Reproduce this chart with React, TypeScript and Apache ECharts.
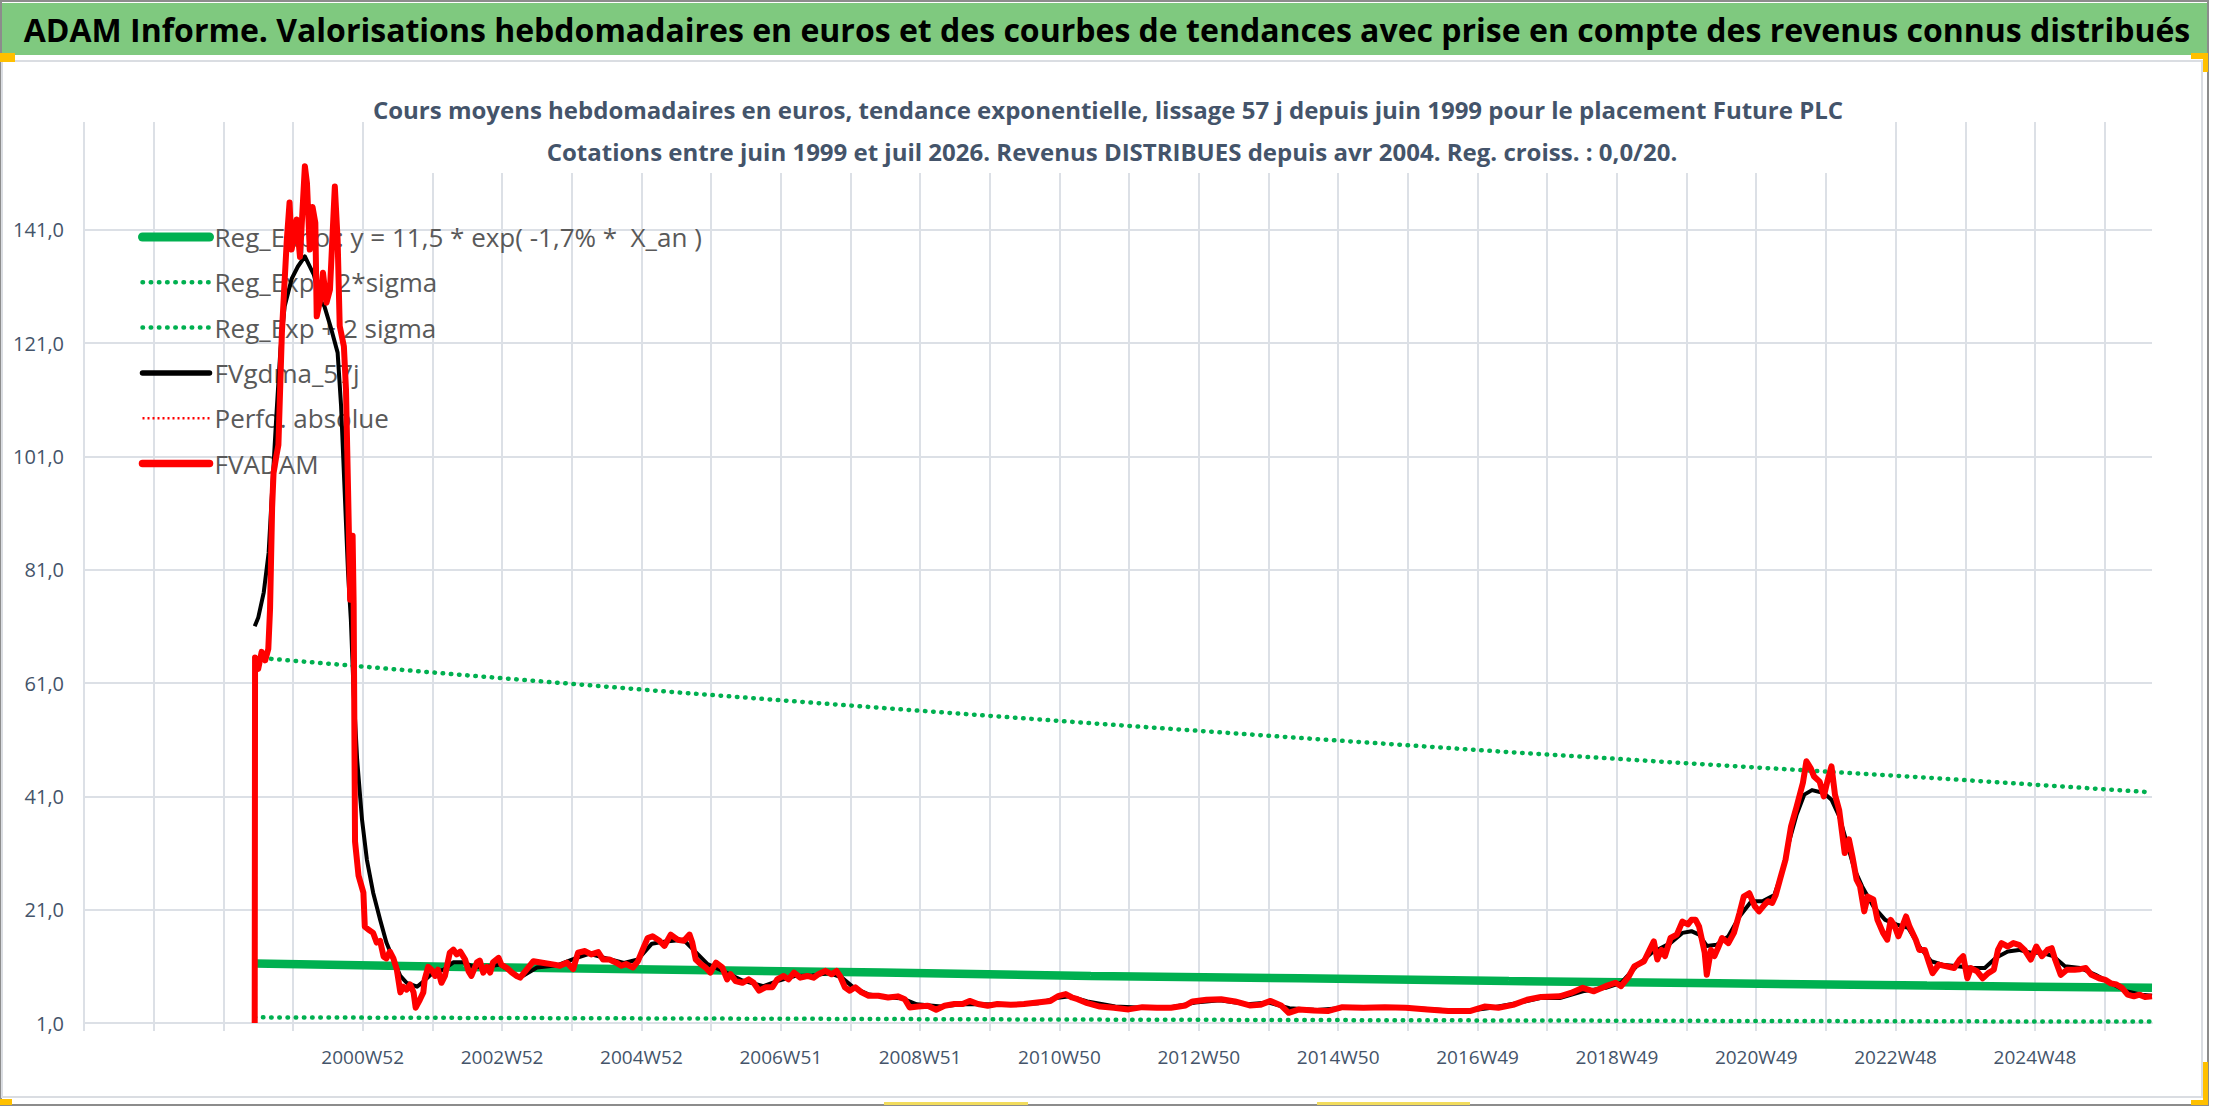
import React, { useEffect, useRef } from "react";
import * as echarts from "echarts";

const HEADER =
  "ADAM Informe. Valorisations hebdomadaires en euros et des courbes de tendances avec prise en compte des revenus connus distribués";
const SUBTITLE_1 =
  "Cours moyens hebdomadaires en euros, tendance exponentielle, lissage 57 j depuis juin 1999 pour le placement Future PLC";
const SUBTITLE_2 =
  "Cotations entre juin 1999 et juil 2026. Revenus DISTRIBUES depuis avr 2004. Reg. croiss. : 0,0/20.";

const SERIES_NAMES = [
  "Reg_Expo : y = 11,5 * exp( -1,7% *  X_an )",
  "Reg_Exp - 2*sigma",
  "Reg_Exp + 2 sigma",
  "FVgdma_57j",
  "Perfo. absolue",
  "FVADAM",
];

// x axis: decimal years; ticks every year, labels every second year
const X_MIN = 1997;
const X_MAX = 2026.68;
const X_TICK_YEARS = [2001, 2003, 2005, 2007, 2009, 2011, 2013, 2015, 2017, 2019, 2021, 2023, 2025];
const X_TICK_LABELS = [
  "2000W52", "2002W52", "2004W52", "2006W51", "2008W51", "2010W50", "2012W50",
  "2014W50", "2016W49", "2018W49", "2020W49", "2022W48", "2024W48",
];
const Y_MIN = 1;
const Y_MAX = 160;
const Y_STEP = 20;

const REG_EXPO: [number, number][] = [
  [1999.45, 11.5], [2002.45, 10.9], [2005.45, 10.4], [2008.45, 9.9], [2011.45, 9.3],
  [2014.45, 8.9], [2017.45, 8.4], [2020.45, 8.0], [2023.45, 7.6], [2026.68, 7.2],
];
const REG_MINUS: [number, number][] = [
  [1999.45, 2.0], [2005.45, 1.8], [2011.45, 1.6], [2017.45, 1.45], [2023.45, 1.3], [2026.68, 1.25],
];
const REG_PLUS: [number, number][] = [
  [1999.45, 65.5], [2002.45, 62.4], [2005.45, 59.4], [2008.45, 56.6], [2011.45, 53.9],
  [2014.45, 51.3], [2017.45, 48.8], [2020.45, 46.5], [2023.45, 44.3], [2026.68, 41.7],
];
const PERFO_ABSOLUE: [number, number][] = [];

const FVGDMA: [number, number][] = [
  [1999.45, 71.0], [1999.5, 72.5], [1999.58, 77.0], [1999.65, 84.0], [1999.7, 95.0], [1999.76, 108.0],
  [1999.82, 120.0], [1999.88, 127.5], [1999.98, 132.3], [2000.07, 134.5], [2000.17, 136.3], [2000.3, 133.0],
  [2000.39, 128.5], [2000.45, 127.5], [2000.55, 123.4], [2000.64, 119.3], [2000.69, 109.8], [2000.74, 95.1],
  [2000.79, 80.4], [2000.83, 72.2], [2000.87, 59.3], [2000.92, 47.5], [2000.99, 36.9], [2001.06, 29.8],
  [2001.15, 24.0], [2001.25, 19.2], [2001.34, 15.2], [2001.44, 12.2], [2001.54, 9.3], [2001.63, 8.1],
  [2001.78, 7.4], [2001.87, 8.3], [2002.01, 9.9], [2002.16, 10.4], [2002.3, 11.7], [2002.45, 11.7],
  [2002.59, 10.9], [2002.78, 10.9], [2002.97, 11.3], [2003.12, 10.1], [2003.26, 9.0],
  [2003.5, 10.8], [2003.8, 11.2], [2004.05, 12.4], [2004.25, 13.2], [2004.5, 12.4], [2004.75, 11.6],
  [2004.95, 12.2], [2005.15, 15.0], [2005.35, 15.4], [2005.6, 15.7], [2005.78, 13.5], [2005.95, 11.4],
  [2006.2, 10.0], [2006.45, 8.5], [2006.75, 7.5], [2006.95, 8.4], [2007.2, 9.3], [2007.45, 9.4],
  [2007.7, 9.8], [2007.88, 9.0], [2008.05, 7.2], [2008.25, 6.1], [2008.5, 5.6], [2008.75, 5.3],
  [2008.95, 4.3], [2009.3, 3.9], [2009.6, 4.3], [2009.9, 4.3], [2010.3, 4.2], [2010.7, 4.5],
  [2010.95, 5.4], [2011.15, 5.7], [2011.4, 4.8], [2011.8, 3.9],
  [2012.2, 3.7], [2012.6, 3.8], [2012.95, 4.6], [2013.3, 5.0], [2013.7, 4.3], [2014.0, 4.6],
  [2014.3, 3.6], [2014.7, 3.3], [2015.1, 3.7], [2015.6, 3.8], [2016.0, 3.7], [2016.5, 3.3],
  [2016.9, 3.2], [2017.2, 3.7], [2017.6, 4.6], [2017.9, 5.4],
  [2018.18, 5.4], [2018.51, 6.6], [2018.84, 7.2], [2019.06, 8.1], [2019.28, 11.0], [2019.5, 13.4],
  [2019.77, 15.1], [2019.94, 16.9], [2020.07, 17.2], [2020.18, 16.6], [2020.29, 14.6], [2020.43, 14.8],
  [2020.6, 16.3], [2020.76, 19.8], [2020.93, 22.5], [2021.09, 22.5], [2021.26, 23.6], [2021.37, 27.5],
  [2021.48, 33.4], [2021.58, 37.8], [2021.69, 41.3], [2021.8, 42.1], [2021.97, 41.6], [2022.08, 40.4],
  [2022.19, 37.5], [2022.3, 32.8], [2022.41, 28.1], [2022.52, 25.1], [2022.68, 21.6], [2022.85, 19.2],
  [2023.01, 18.4], [2023.18, 17.8], [2023.34, 14.5], [2023.51, 11.9], [2023.67, 11.3], [2023.89, 11.0],
  [2024.11, 10.7], [2024.28, 10.7], [2024.44, 12.5], [2024.61, 13.6], [2024.77, 13.9], [2024.94, 13.4],
  [2025.1, 13.4], [2025.26, 12.8], [2025.43, 11.0], [2025.65, 10.7], [2025.87, 9.5], [2026.09, 8.0],
  [2026.31, 6.6], [2026.53, 6.0], [2026.68, 5.8],
];

const FVADAM: [number, number][] = [
  [1999.45, 1.0], [1999.455, 65.5], [1999.5, 63.5], [1999.55, 66.5], [1999.6, 65.0], [1999.645, 67.0],
  [1999.67, 74.0], [1999.7, 92.0], [1999.72, 98.0], [1999.76, 101.0], [1999.79, 103.0], [1999.84, 122.8],
  [1999.91, 139.0], [1999.95, 145.8], [1999.98, 137.5], [2000.05, 142.8], [2000.1, 136.2], [2000.17, 152.2],
  [2000.2, 149.2], [2000.24, 137.5], [2000.28, 145.0], [2000.32, 142.2], [2000.34, 125.7], [2000.39, 128.6],
  [2000.43, 133.4], [2000.48, 128.1], [2000.53, 130.4], [2000.6, 148.6], [2000.64, 139.2], [2000.67, 124.0],
  [2000.73, 120.4], [2000.76, 112.8], [2000.79, 95.0], [2000.82, 75.7], [2000.855, 87.0], [2000.87, 75.0],
  [2000.89, 33.0], [2000.94, 27.0], [2001.01, 24.0], [2001.03, 18.0], [2001.08, 17.5], [2001.15, 16.9],
  [2001.2, 15.2], [2001.25, 15.5], [2001.3, 12.7], [2001.34, 12.4], [2001.39, 13.6], [2001.44, 12.4],
  [2001.49, 10.4], [2001.54, 6.4], [2001.58, 7.4], [2001.63, 6.9], [2001.68, 7.8], [2001.73, 6.4],
  [2001.76, 3.7], [2001.82, 5.1], [2001.87, 6.4], [2001.89, 8.7], [2001.94, 10.9], [2001.99, 10.4],
  [2002.04, 9.3], [2002.08, 10.4], [2002.13, 8.1], [2002.18, 9.3], [2002.25, 13.4], [2002.3, 13.95],
  [2002.35, 13.1], [2002.4, 13.6], [2002.47, 12.2], [2002.52, 10.1], [2002.56, 9.3], [2002.64, 11.7],
  [2002.68, 12.0], [2002.73, 9.9], [2002.78, 10.9], [2002.83, 9.9], [2002.87, 11.7], [2002.95, 12.5],
  [2002.99, 11.3], [2003.07, 10.7], [2003.14, 9.9], [2003.21, 9.3], [2003.26, 9.0],
  [2003.45, 11.9], [2003.6, 11.6], [2003.75, 11.3], [2003.83, 11.1], [2003.93, 11.65], [2004.02, 10.5],
  [2004.09, 13.4], [2004.19, 13.7], [2004.28, 13.1], [2004.38, 13.5], [2004.45, 12.2], [2004.54, 12.2],
  [2004.64, 11.65], [2004.71, 11.1], [2004.78, 11.4], [2004.88, 10.8], [2004.95, 11.9], [2005.02, 14.0],
  [2005.09, 16.0], [2005.16, 16.3], [2005.26, 15.5], [2005.33, 14.6], [2005.42, 16.6], [2005.52, 15.7],
  [2005.61, 15.5], [2005.69, 16.6], [2005.73, 15.2], [2005.78, 12.2], [2005.85, 11.4], [2005.92, 10.8],
  [2005.99, 9.9], [2006.07, 11.65], [2006.16, 10.8], [2006.23, 8.7], [2006.28, 9.6], [2006.35, 8.4],
  [2006.45, 8.1], [2006.54, 8.7], [2006.61, 8.1], [2006.69, 6.7], [2006.78, 7.3], [2006.88, 7.3],
  [2006.95, 8.7], [2007.04, 9.3], [2007.11, 8.7], [2007.19, 9.9], [2007.28, 9.0], [2007.38, 9.3],
  [2007.47, 9.0], [2007.54, 9.6], [2007.64, 10.2], [2007.73, 9.6], [2007.8, 10.2], [2007.85, 9.3],
  [2007.92, 7.3], [2007.99, 6.7], [2008.07, 7.3], [2008.16, 6.4], [2008.26, 5.8], [2008.4, 5.8],
  [2008.54, 5.5], [2008.68, 5.7], [2008.78, 5.2], [2008.85, 3.75], [2008.97, 3.9], [2009.11, 4.05],
  [2009.23, 3.35], [2009.35, 4.05], [2009.49, 4.35], [2009.61, 4.35], [2009.71, 4.9], [2009.83, 4.35],
  [2009.97, 4.05], [2010.11, 4.35], [2010.3, 4.2], [2010.49, 4.35], [2010.68, 4.6], [2010.87, 4.9],
  [2010.99, 5.8], [2011.09, 6.1], [2011.18, 5.5], [2011.26, 5.2], [2011.4, 4.5], [2011.58, 3.9],
  [2011.78, 3.7], [2011.99, 3.4], [2012.19, 3.8], [2012.4, 3.7], [2012.6, 3.7], [2012.81, 4.1],
  [2012.91, 4.8], [2013.11, 5.1], [2013.32, 5.2], [2013.52, 4.8], [2013.73, 4.1], [2013.88, 4.2],
  [2014.03, 4.9], [2014.18, 4.1], [2014.29, 2.8], [2014.44, 3.4], [2014.65, 3.2], [2014.85, 3.1],
  [2015.06, 3.8], [2015.36, 3.7], [2015.67, 3.8], [2015.97, 3.7], [2016.28, 3.4], [2016.58, 3.1],
  [2016.89, 3.1], [2017.1, 3.9], [2017.3, 3.7], [2017.51, 4.2], [2017.71, 5.1], [2017.91, 5.6],
  [2018.18, 5.7], [2018.34, 6.3], [2018.51, 7.2], [2018.67, 6.6], [2018.84, 7.5], [2018.98, 8.1],
  [2019.06, 7.5], [2019.17, 9.2], [2019.25, 11.0], [2019.39, 11.9], [2019.47, 13.9], [2019.53, 15.4],
  [2019.58, 12.2], [2019.64, 13.9], [2019.69, 12.8], [2019.77, 16.0], [2019.86, 16.6], [2019.94, 18.9],
  [2020.02, 18.4], [2020.07, 19.2], [2020.13, 19.2], [2020.18, 18.0], [2020.26, 13.4], [2020.29, 9.5],
  [2020.35, 13.9], [2020.4, 12.8], [2020.46, 14.5], [2020.51, 16.0], [2020.6, 15.1], [2020.68, 16.9],
  [2020.76, 20.4], [2020.82, 23.3], [2020.9, 23.9], [2020.98, 21.6], [2021.04, 20.7], [2021.12, 21.9],
  [2021.17, 22.5], [2021.23, 22.2], [2021.28, 23.6], [2021.34, 26.3], [2021.42, 29.8], [2021.5, 35.7],
  [2021.58, 39.2], [2021.67, 43.4], [2021.72, 47.2], [2021.78, 46.0], [2021.83, 44.5], [2021.91, 43.6],
  [2021.97, 41.0], [2022.02, 43.6], [2022.08, 46.3], [2022.13, 41.3], [2022.19, 38.6], [2022.27, 31.0],
  [2022.33, 33.4], [2022.38, 30.4], [2022.44, 26.3], [2022.49, 25.1], [2022.55, 20.7], [2022.6, 23.3],
  [2022.68, 22.8], [2022.74, 19.2], [2022.82, 16.9], [2022.88, 15.7], [2022.93, 19.2], [2022.99, 18.0],
  [2023.04, 16.3], [2023.09, 17.8], [2023.15, 19.8], [2023.2, 18.0], [2023.29, 15.7], [2023.34, 13.9],
  [2023.42, 13.9], [2023.48, 11.6], [2023.53, 9.8], [2023.62, 11.3], [2023.73, 11.0], [2023.84, 10.7],
  [2023.92, 12.2], [2023.97, 12.8], [2024.03, 8.9], [2024.08, 10.7], [2024.17, 10.1], [2024.25, 8.9],
  [2024.33, 9.8], [2024.41, 10.4], [2024.47, 13.9], [2024.52, 15.1], [2024.61, 14.5], [2024.69, 15.1],
  [2024.77, 14.8], [2024.85, 13.9], [2024.94, 12.2], [2025.02, 14.5], [2025.1, 12.8], [2025.18, 13.9],
  [2025.24, 14.2], [2025.29, 12.2], [2025.37, 9.5], [2025.46, 10.4], [2025.57, 10.4], [2025.65, 10.5],
  [2025.73, 10.7], [2025.81, 9.5], [2025.92, 8.9], [2026.01, 8.6], [2026.09, 8.0], [2026.17, 7.8],
  [2026.25, 7.2], [2026.33, 6.0], [2026.42, 5.7], [2026.5, 6.0], [2026.58, 5.6], [2026.68, 5.7],
];

const FONT = '"Open Sans", "Noto Sans", sans-serif';
const SLATE = "#44546A";
const GRID_COLOR = "#DCE0E6";
const GREEN = "#00B050";
const RED = "#FF0000";
const ORANGE = "#FFC000";

function xLabel(v: number): string {
  const r = Math.round(v);
  if (Math.abs(v - r) > 0.01) return "";
  const i = X_TICK_YEARS.indexOf(r);
  return i >= 0 ? X_TICK_LABELS[i] : "";
}

function buildOption(): any {
  const dotted = [0.5, 7.7];
  const hiddenSymbol = { opacity: 0, color: "transparent", borderWidth: 0 };
  return {
    animation: false,
    backgroundColor: "#ffffff",
    textStyle: { fontFamily: FONT },
    grid: { left: 84, top: 122, width: 2068, height: 901, outerBoundsMode: "none", containLabel: false },
    xAxis: {
      type: "value",
      min: X_MIN,
      max: X_MAX,
      interval: 1,
      axisLine: { show: true, lineStyle: { color: GRID_COLOR, width: 2 } },
      axisTick: { show: true, length: 8, lineStyle: { color: GRID_COLOR, width: 2 } },
      splitLine: { show: true, showMaxLine: false, lineStyle: { color: GRID_COLOR, width: 2 } },
      axisLabel: {
        formatter: xLabel,
        color: SLATE,
        fontSize: 19,
        fontFamily: FONT,
        margin: 24,
        showMaxLabel: false,
      },
    },
    yAxis: {
      type: "value",
      min: Y_MIN,
      max: Y_MAX,
      interval: Y_STEP,
      axisLine: { show: false },
      axisTick: { show: false },
      splitLine: { show: true, showMaxLine: false, lineStyle: { color: GRID_COLOR, width: 2 } },
      axisLabel: {
        formatter: (v: number) => v.toFixed(1).replace(".", ","),
        color: SLATE,
        fontSize: 20,
        fontFamily: FONT,
        margin: 20,
        showMaxLabel: false,
      },
    },
    legend: {
      orient: "vertical",
      left: 138,
      top: 222,
      padding: 0,
      z: 1,
      itemWidth: 67,
      itemHeight: 14,
      itemGap: 15.3,
      selectedMode: false,
      itemStyle: hiddenSymbol,
      textStyle: { color: "#595959", fontSize: 26, fontFamily: FONT, lineHeight: 30 },
      data: [
        { name: SERIES_NAMES[0], itemStyle: hiddenSymbol, lineStyle: { width: 9, cap: "round" } },
        { name: SERIES_NAMES[1], itemStyle: hiddenSymbol, lineStyle: { width: 4.5, type: dotted, cap: "round" } },
        { name: SERIES_NAMES[2], itemStyle: hiddenSymbol, lineStyle: { width: 4.5, type: dotted, cap: "round" } },
        { name: SERIES_NAMES[3], itemStyle: hiddenSymbol, lineStyle: { width: 5.5, cap: "round" } },
        { name: SERIES_NAMES[4], itemStyle: hiddenSymbol, lineStyle: { width: 2.5, type: [2, 3] } },
        { name: SERIES_NAMES[5], itemStyle: hiddenSymbol, lineStyle: { width: 7.5, cap: "round" } },
      ],
    },
    tooltip: { show: false },
    series: [
      {
        name: SERIES_NAMES[0], type: "line", data: REG_EXPO, symbol: "none", silent: true,
        itemStyle: { color: GREEN }, lineStyle: { color: GREEN, width: 8.5 },
      },
      {
        name: SERIES_NAMES[1], type: "line", data: REG_MINUS, symbol: "none", silent: true,
        itemStyle: { color: GREEN }, lineStyle: { color: GREEN, width: 4.5, type: dotted, cap: "round" },
      },
      {
        name: SERIES_NAMES[2], type: "line", data: REG_PLUS, symbol: "none", silent: true,
        itemStyle: { color: GREEN }, lineStyle: { color: GREEN, width: 4.5, type: dotted, cap: "round" },
      },
      {
        name: SERIES_NAMES[3], type: "line", data: FVGDMA, symbol: "none", silent: true,
        itemStyle: { color: "#000000" }, lineStyle: { color: "#000000", width: 4, join: "round" },
      },
      {
        name: SERIES_NAMES[4], type: "line", data: PERFO_ABSOLUE, symbol: "none", silent: true,
        itemStyle: { color: RED }, lineStyle: { color: RED, width: 2.5, type: [2, 3] },
      },
      {
        name: SERIES_NAMES[5], type: "line", data: FVADAM, symbol: "none", silent: true,
        itemStyle: { color: RED }, lineStyle: { color: RED, width: 6, join: "round" },
      },
    ],
    graphic: {
      elements: [
        { type: "rect", silent: true, z: 0, shape: { x: 0, y: 3, width: 2208, height: 52 }, style: { fill: "#7FC97F" } },
        {
          type: "text", silent: true, z: 3, x: 1107, y: 29,
          style: { text: HEADER, fill: "#000000", fontSize: 32, fontWeight: "bold", fontFamily: FONT, align: "center", verticalAlign: "middle" },
        },
        { type: "rect", silent: true, z: 0, shape: { x: 1, y: 1, width: 2207, height: 1104 }, style: { fill: "none", stroke: "#8C8C8C", lineWidth: 2 } },
        { type: "rect", silent: true, z: 0, shape: { x: 2, y: 61, width: 2200, height: 1036 }, style: { fill: "none", stroke: "#DADDE2", lineWidth: 2 } },
        { type: "rect", silent: true, z: 1, shape: { x: 368, y: 116, width: 1480, height: 57 }, style: { fill: "#ffffff" } },
        {
          type: "text", silent: true, z: 3, x: 1108, y: 109,
          style: { text: SUBTITLE_1, fill: SLATE, fontSize: 24, fontWeight: "bold", fontFamily: FONT, align: "center", verticalAlign: "middle" },
        },
        {
          type: "text", silent: true, z: 3, x: 1112, y: 151,
          style: { text: SUBTITLE_2, fill: SLATE, fontSize: 24, fontWeight: "bold", fontFamily: FONT, align: "center", verticalAlign: "middle" },
        },
        { type: "rect", silent: true, z: 4, shape: { x: 0, y: 53, width: 15, height: 9 }, style: { fill: ORANGE } },
        { type: "rect", silent: true, z: 4, shape: { x: 2191, y: 53, width: 17, height: 6 }, style: { fill: ORANGE } },
        { type: "rect", silent: true, z: 4, shape: { x: 2203, y: 53, width: 5, height: 19 }, style: { fill: ORANGE } },
        { type: "rect", silent: true, z: 4, shape: { x: 2203, y: 1062, width: 5, height: 43 }, style: { fill: ORANGE } },
        { type: "rect", silent: true, z: 4, shape: { x: 2191, y: 1100, width: 17, height: 5 }, style: { fill: ORANGE } },
        { type: "rect", silent: true, z: 4, shape: { x: 0, y: 1099, width: 12, height: 6 }, style: { fill: ORANGE } },
        { type: "rect", silent: true, z: 4, shape: { x: 884, y: 1102, width: 144, height: 3 }, style: { fill: "#F2DC5D" } },
        { type: "rect", silent: true, z: 4, shape: { x: 1317, y: 1102, width: 153, height: 3 }, style: { fill: "#F2DC5D" } },
      ],
    },
  };
}

export default function App() {
  const ref = useRef<HTMLDivElement>(null);
  useEffect(() => {
    document.documentElement.style.margin = "0";
    document.body.style.margin = "0";
    document.body.style.padding = "0";
    if (!ref.current) return;
    const chart = echarts.init(ref.current, null, { renderer: "svg" });
    chart.setOption(buildOption());
    return () => chart.dispose();
  }, []);
  return (
    <div
      ref={ref}
      style={{ position: "fixed", left: 0, top: 0, width: 2216, height: 1106, background: "#ffffff" }}
    />
  );
}
